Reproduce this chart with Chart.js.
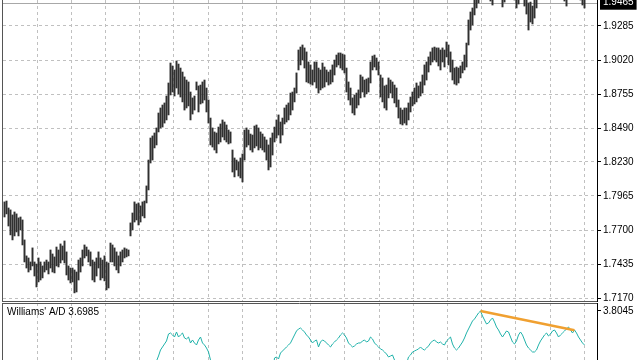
<!DOCTYPE html>
<html>
<head>
<meta charset="utf-8">
<script src="https://cdn.jsdelivr.net/npm/chart.js"></script>
<style>
  html, body { margin: 0; padding: 0; background: #fff; overflow: hidden; }
  #wrap { position: relative; width: 640px; height: 360px; overflow: hidden; }
  #priceBox { position: absolute; left: 0; top: 0; }
  #adBox { position: absolute; left: 0; top: 302px; }
</style>
</head>
<body>
<div id="wrap">
  <div id="priceBox"><canvas id="price" width="640" height="306"></canvas></div>
  <div id="adBox"><canvas id="ad" width="640" height="200"></canvas></div>
</div>
<script>
// bar highs / lows, one per bar
var highs = [
  1.7919,1.7926,1.7872,1.7857,1.7818,1.7841,1.7826,1.7795,1.7802,1.7779,
  1.7624,1.7500,1.7484,1.7453,1.7562,1.7453,1.7437,1.7484,1.7453,1.7422,
  1.7453,1.7468,1.7453,1.7546,1.7515,1.7492,1.7569,1.7546,1.7593,1.7577,
  1.7616,1.7531,1.7422,1.7406,1.7406,1.7391,1.7375,1.7468,1.7484,1.7546,
  1.7585,1.7569,1.7546,1.7531,1.7468,1.7453,1.7484,1.7531,1.7484,1.7468,
  1.7500,1.7453,1.7445,1.7600,1.7585,1.7562,1.7531,1.7500,1.7531,1.7546,
  1.7562,1.7554,1.7546,1.7756,1.7833,1.7919,1.7903,1.7911,1.7888,1.7919,
  1.7926,1.8043,1.8244,1.8415,1.8431,1.8454,1.8493,1.8609,1.8648,1.8671,
  1.8687,1.8741,1.8842,1.8997,1.8974,1.8943,1.9013,1.8989,1.8958,1.8927,
  1.8889,1.8865,1.8850,1.8772,1.8726,1.8741,1.8850,1.8819,1.8826,1.8850,
  1.8865,1.8803,1.8710,1.8570,1.8493,1.8462,1.8454,1.8500,1.8524,1.8555,
  1.8539,1.8516,1.8477,1.8462,1.8322,1.8260,1.8244,1.8229,1.8260,1.8291,
  1.8477,1.8493,1.8477,1.8446,1.8438,1.8508,1.8516,1.8493,1.8462,1.8446,
  1.8423,1.8400,1.8361,1.8415,1.8454,1.8500,1.8555,1.8594,1.8539,1.8570,
  1.8648,1.8671,1.8687,1.8764,1.8772,1.8803,1.8920,1.9098,1.9121,1.9137,
  1.9114,1.9083,1.9005,1.8982,1.8943,1.9005,1.9005,1.8958,1.8943,1.8997,
  1.8966,1.8943,1.8927,1.8943,1.8982,1.9020,1.9059,1.9075,1.9075,1.9067,
  1.9059,1.8958,1.8850,1.8803,1.8726,1.8749,1.8764,1.8788,1.8904,1.8889,
  1.8865,1.8873,1.8881,1.9005,1.9051,1.9059,1.9036,1.9005,1.8904,1.8881,
  1.8819,1.8826,1.8881,1.8865,1.8850,1.8826,1.8803,1.8710,1.8648,1.8632,
  1.8648,1.8648,1.8687,1.8733,1.8772,1.8803,1.8842,1.8819,1.8850,1.8904,
  1.8982,1.9005,1.9044,1.9083,1.9114,1.9121,1.9114,1.9114,1.9098,1.9114,
  1.9098,1.9160,1.9137,1.9083,1.9020,1.8958,1.8966,1.8958,1.8974,1.9005,
  1.9059,1.9152,1.9331,1.9393,1.9424,1.9525,1.9548,1.9564,1.9602,1.9626,
  1.9641,1.9610,1.9595,1.9579,1.9564,1.9595,1.9626,1.9641,1.9610,1.9564,
  1.9579,1.9602,1.9626,1.9610,1.9595,1.9579,1.9556,1.9579,1.9610,1.9595,
  1.9548,1.9517,1.9463,1.9470,1.9439,1.9486,1.9533,1.9564,1.9595,1.9610,
  1.9626,1.9641,1.9657,1.9633,1.9618,1.9602,1.9626,1.9610,1.9587,1.9571,
  1.9556,1.9533,1.9564,1.9595,1.9610,1.9587,1.9579,1.9564,1.9556,1.9533,
  1.9525
];
var lows = [
  1.7802,1.7826,1.7732,1.7663,1.7624,1.7655,1.7686,1.7655,1.7701,1.7585,
  1.7453,1.7406,1.7375,1.7391,1.7422,1.7344,1.7259,1.7298,1.7313,1.7329,
  1.7375,1.7391,1.7360,1.7406,1.7375,1.7368,1.7422,1.7414,1.7445,1.7468,
  1.7445,1.7352,1.7313,1.7290,1.7298,1.7213,1.7220,1.7313,1.7375,1.7422,
  1.7484,1.7500,1.7453,1.7422,1.7313,1.7298,1.7344,1.7406,1.7313,1.7329,
  1.7306,1.7236,1.7251,1.7453,1.7453,1.7422,1.7391,1.7368,1.7422,1.7453,
  1.7484,1.7492,1.7500,1.7655,1.7701,1.7763,1.7779,1.7740,1.7763,1.7810,
  1.7795,1.7911,1.8012,1.8221,1.8244,1.8338,1.8361,1.8462,1.8493,1.8500,
  1.8531,1.8555,1.8594,1.8749,1.8772,1.8741,1.8803,1.8757,1.8733,1.8695,
  1.8632,1.8648,1.8664,1.8555,1.8601,1.8632,1.8788,1.8617,1.8679,1.8687,
  1.8710,1.8617,1.8531,1.8361,1.8345,1.8322,1.8299,1.8369,1.8384,1.8423,
  1.8400,1.8384,1.8369,1.8376,1.8151,1.8113,1.8167,1.8120,1.8105,1.8074,
  1.8244,1.8345,1.8361,1.8322,1.8306,1.8338,1.8353,1.8322,1.8338,1.8322,
  1.8306,1.8244,1.8167,1.8190,1.8283,1.8384,1.8415,1.8438,1.8376,1.8438,
  1.8524,1.8539,1.8555,1.8594,1.8632,1.8695,1.8764,1.8943,1.8982,1.9020,
  1.8958,1.8850,1.8842,1.8834,1.8826,1.8850,1.8803,1.8764,1.8788,1.8803,
  1.8811,1.8850,1.8826,1.8834,1.8850,1.8904,1.8966,1.8982,1.8958,1.8943,
  1.8920,1.8772,1.8710,1.8671,1.8609,1.8594,1.8648,1.8671,1.8726,1.8772,
  1.8733,1.8757,1.8772,1.8842,1.8943,1.8966,1.8943,1.8904,1.8733,1.8695,
  1.8648,1.8632,1.8726,1.8764,1.8726,1.8687,1.8656,1.8570,1.8524,1.8516,
  1.8531,1.8516,1.8555,1.8617,1.8664,1.8679,1.8695,1.8726,1.8741,1.8764,
  1.8826,1.8865,1.8927,1.8982,1.9005,1.9020,1.9005,1.8974,1.8943,1.9005,
  1.8966,1.9044,1.8982,1.8927,1.8865,1.8834,1.8826,1.8842,1.8881,1.8920,
  1.8943,1.8966,1.9137,1.9253,1.9292,1.9370,1.9424,1.9463,1.9502,1.9517,
  1.9533,1.9509,1.9502,1.9478,1.9447,1.9494,1.9525,1.9548,1.9517,1.9432,
  1.9470,1.9509,1.9533,1.9517,1.9509,1.9486,1.9424,1.9455,1.9502,1.9494,
  1.9439,1.9377,1.9253,1.9315,1.9300,1.9346,1.9424,1.9494,1.9517,1.9525,
  1.9540,1.9548,1.9564,1.9548,1.9533,1.9517,1.9540,1.9525,1.9509,1.9494,
  1.9478,1.9439,1.9494,1.9517,1.9533,1.9509,1.9502,1.9494,1.9486,1.9447,
  1.9424
];
// Williams' A/D, one value per bar
var adValues = [
  3.5519,3.5582,3.5395,3.5270,3.5114,3.5207,3.5145,3.5020,3.5083,3.4896,
  3.4646,3.4459,3.4335,3.4397,3.4522,3.4366,3.4148,3.4272,3.4210,3.4085,
  3.4179,3.4241,3.4148,3.4335,3.4241,3.4179,3.4366,3.4303,3.4459,3.4397,
  3.4522,3.4335,3.4116,3.4023,3.4054,3.3836,3.3898,3.4085,3.4210,3.4335,
  3.4459,3.4397,3.4303,3.4241,3.4023,3.3960,3.4116,3.4241,3.4085,3.4148,
  3.4054,3.3867,3.3929,3.4272,3.4335,3.4210,3.4116,3.4054,3.4179,3.4272,
  3.4335,3.4303,3.4272,3.4709,3.4896,3.5145,3.5083,3.5176,3.5052,3.5239,
  3.5207,3.5488,3.5769,3.6018,3.6143,3.6330,3.6486,3.6642,3.6829,3.6923,
  3.7016,3.7110,3.7328,3.7359,3.7297,3.7234,3.7390,3.7234,3.7297,3.7359,
  3.7203,3.7172,3.7234,3.7047,3.7141,3.7047,3.6985,3.7141,3.7234,3.7047,
  3.6985,3.6891,3.6767,3.6517,3.6330,3.6205,3.6112,3.6237,3.6330,3.6455,
  3.6361,3.6268,3.6143,3.6174,3.5893,3.5706,3.5769,3.5644,3.5706,3.5582,
  3.5893,3.6018,3.5956,3.5862,3.5800,3.5987,3.6049,3.5956,3.5893,3.5831,
  3.5769,3.5644,3.5519,3.5706,3.6018,3.6580,3.6611,3.6548,3.6735,3.6798,
  3.6860,3.6923,3.6985,3.7047,3.7172,3.7297,3.7421,3.7484,3.7515,3.7453,
  3.7390,3.7297,3.7234,3.7141,3.7047,3.7110,3.7141,3.6923,3.7078,3.7141,
  3.7110,3.7047,3.6985,3.6923,3.7016,3.7078,3.7141,3.7203,3.7297,3.7359,
  3.7297,3.7203,3.7047,3.6985,3.6923,3.6954,3.7016,3.7047,3.7047,3.7110,
  3.7141,3.7078,3.7110,3.7234,3.7172,3.7047,3.6985,3.6923,3.6860,3.6829,
  3.6767,3.6704,3.6611,3.6642,3.6673,3.6517,3.6361,3.6205,3.6112,3.6081,
  3.6205,3.6392,3.6611,3.6673,3.6767,3.6798,3.6829,3.6860,3.6923,3.6860,
  3.6829,3.6891,3.6954,3.7047,3.7110,3.7141,3.7078,3.7047,3.7078,3.7016,
  3.6985,3.7110,3.7172,3.7234,3.7016,3.6891,3.6829,3.6891,3.6985,3.7078,
  3.7203,3.7359,3.7484,3.7608,3.7733,3.7796,3.7889,3.7983,3.8045,3.7889,
  3.7764,3.7640,3.7671,3.7764,3.7827,3.7702,3.7546,3.7453,3.7328,3.7234,
  3.7328,3.7421,3.7390,3.7234,3.7078,3.7016,3.7110,3.7297,3.7390,3.7297,
  3.7141,3.6985,3.6891,3.6829,3.6767,3.6767,3.6829,3.6985,3.7110,3.7203,
  3.7297,3.7359,3.7266,3.7328,3.7421,3.7453,3.7359,3.7234,3.7297,3.7359,
  3.7421,3.7484,3.7546,3.7453,3.7359,3.7453,3.7359,3.7234,3.7141,3.7047,
  3.6985
];
var bidPrice = 1.9465;
var priceTicks = [1.7170, 1.7435, 1.7700, 1.7965, 1.8230, 1.8490, 1.8755, 1.9020, 1.9285, 1.9465];
// hand drawn trend line on the indicator (bar index -> value)
var trendFrom = 238, trendTo = 285;
var trendValues = [3.8045, 3.7444];

var barIndex = highs.map(function (_, i) { return i; });
var adLast = adValues[adValues.length - 1];
var adTop = Math.max.apply(null, adValues);

// vertical grid every ~17 bars
var gridLines = [];
for (var k = 0; k < 17; k++) gridLines.push(16.25 + k * 17.1);

Chart.defaults.font.family = 'Liberation Sans';
Chart.defaults.font.size = 10;
Chart.defaults.color = '#000';

var isBid = function (c) { return c.tick && c.tick.value === bidPrice; };

var frame = {
  id: 'frame',
  afterDraw: function (chart, args, opts) {
    var ctx = chart.ctx, a = chart.chartArea;
    ctx.save();
    ctx.strokeStyle = '#555';
    ctx.lineWidth = 1;
    ctx.beginPath();
    ctx.moveTo(a.left - 0.5, a.top);
    ctx.lineTo(a.left - 0.5, a.bottom + 1);
    if (opts.bottom) { ctx.moveTo(a.left - 1, a.bottom + 0.5); ctx.lineTo(a.right, a.bottom + 0.5); }
    if (opts.top) { ctx.moveTo(a.left - 1, a.top + 0.5); ctx.lineTo(a.right, a.top + 0.5); }
    ctx.stroke();
    ctx.restore();
  }
};

var bidLine = {
  id: 'bidLine',
  beforeDatasetsDraw: function (chart) {
    var ctx = chart.ctx, a = chart.chartArea;
    var y = Math.round(chart.scales.y.getPixelForValue(bidPrice)) + 0.5;
    ctx.save();
    ctx.strokeStyle = '#a8a8a8';
    ctx.lineWidth = 1;
    ctx.beginPath();
    ctx.moveTo(a.left, y);
    ctx.lineTo(a.right, y);
    ctx.stroke();
    ctx.restore();
  }
};

var adLabel = {
  id: 'adLabel',
  afterDraw: function (chart) {
    var ctx = chart.ctx;
    ctx.save();
    ctx.font = '10px "Liberation Sans"';
    ctx.fillStyle = '#000';
    ctx.textBaseline = 'middle';
    ctx.fillText("Williams' A/D " + adLast.toFixed(4), 7, 10);
    ctx.restore();
  }
};

var xAxis = {
  type: 'linear', min: -0.75, max: 296.25, offset: false,
  afterBuildTicks: function (s) { s.ticks = gridLines.map(function (v) { return {value: v}; }); },
  grid: { color: '#c0c0c0', drawTicks: false, offset: false },
  border: { display: false, dash: [3, 3] },
  ticks: { display: false }
};

// price chart
var chart = new Chart(document.getElementById('price'), {
  type: 'bar',
  data: {
    labels: barIndex,
    datasets: [{
      data: lows.map(function (lo, i) { return [lo, highs[i]]; }),
      backgroundColor: '#303030',
      barThickness: 1.3,
      grouped: false,
      clip: 0
    }]
  },
  options: {
    responsive: false,
    animation: false,
    events: [],
    layout: { padding: { left: 3, top: 0, right: 0, bottom: 5 } },
    plugins: { legend: { display: false }, tooltip: { enabled: false }, frame: { bottom: true } },
    scales: {
      x: xAxis,
      y: {
        position: 'right',
        min: 1.7150, max: 1.9486,
        afterBuildTicks: function (s) { s.ticks = priceTicks.map(function (v) { return {value: v}; }); },
        afterFit: function (s) { s.width = 43; s.paddingTop = 0; s.paddingBottom = 0; },
        grid: {
          color: function (c) { return isBid(c) ? 'rgba(0,0,0,0)' : '#c0c0c0'; },
          tickColor: function (c) { return isBid(c) ? 'rgba(0,0,0,0)' : '#000'; },
          tickLength: 4
        },
        border: { color: '#000', dash: [3, 3] },
        ticks: {
          padding: 2,
          autoSkip: false,
          color: function (c) { return isBid(c) ? '#fff' : '#000'; },
          showLabelBackdrop: function (c) { return isBid(c); },
          backdropColor: '#000',
          backdropPadding: { x: 3, y: 1 },
          callback: function (v) { return v.toFixed(4); }
        }
      }
    }
  },
  plugins: [frame, bidLine]
});

// Williams' A/D panel
var chart2 = new Chart(document.getElementById('ad'), {
  type: 'line',
  data: {
    labels: barIndex,
    datasets: [{
      data: barIndex.map(function (i) { return i === trendFrom ? trendValues[0] : (i === trendTo ? trendValues[1] : null); }),
      borderColor: '#f0a030',
      borderWidth: 2.5,
      pointRadius: 0,
      spanGaps: true
    }, {
      data: adValues,
      borderColor: '#20b2aa',
      borderWidth: 1,
      pointRadius: 0,
      tension: 0
    }]
  },
  options: {
    responsive: false,
    animation: false,
    events: [],
    layout: { padding: { left: 3, top: 1, right: 0, bottom: 0 } },
    plugins: { legend: { display: false }, tooltip: { enabled: false }, frame: { top: true } },
    scales: {
      x: xAxis,
      y: {
        position: 'right',
        min: 3.2090, max: 3.8294,
        afterBuildTicks: function (s) { s.ticks = [{value: adTop}]; },
        afterFit: function (s) { s.width = 43; s.paddingTop = 0; s.paddingBottom = 0; },
        grid: { color: 'rgba(0,0,0,0)', tickColor: '#000', tickLength: 4 },
        border: { color: '#000' },
        ticks: { padding: 2, callback: function (v) { return v.toFixed(4); } }
      }
    }
  },
  plugins: [frame, adLabel]
});
</script>
</body>
</html>
